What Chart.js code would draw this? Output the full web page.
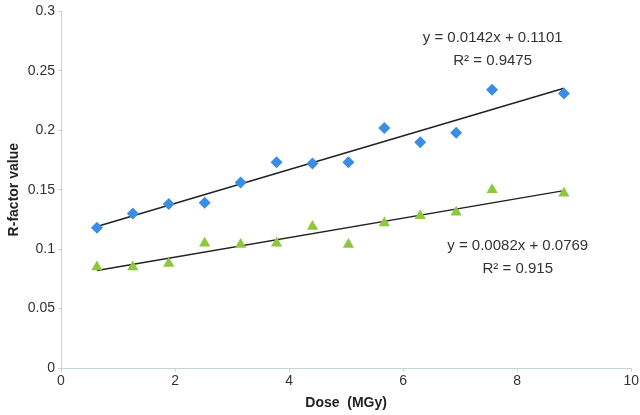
<!DOCTYPE html>
<html>
<head>
<meta charset="utf-8">
<script src="https://cdn.jsdelivr.net/npm/chart.js@4"></script>
<style>
  html, body { margin: 0; padding: 0; background: #fff; }
  #wrap { width: 640px; height: 415px; position: relative; }
</style>
</head>
<body>
<div id="wrap"><canvas id="rfactorChart"></canvas></div>
<script>
// dose values (MGy)
const doses = [0.63, 1.26, 1.89, 2.52, 3.15, 3.78, 4.41, 5.04, 5.67, 6.3, 6.93, 7.56, 8.82];
// R-factor values
const blueValues = [0.118, 0.130, 0.138, 0.139, 0.156, 0.173, 0.172, 0.173, 0.202, 0.190, 0.198, 0.234, 0.231];
const greenValues = [0.085, 0.085, 0.088, 0.105, 0.104, 0.105, 0.119, 0.104, 0.122, 0.128, 0.131, 0.150, 0.147];
// linear trend lines (slope, intercept) as printed on the chart
const blueFit = [0.0142, 0.1101];
const greenFit = [0.0082, 0.0769];
const blueLabel = ["y = 0.0142x + 0.1101", "R\u00b2 = 0.9475"];
const greenLabel = ["y = 0.0082x + 0.0769", "R\u00b2 = 0.915"];

const toPoints = (xs, ys) => xs.map((x, i) => ({ x: x, y: ys[i] }));
const fitLine = (fit) => {
  const x0 = doses[0], x1 = doses[doses.length - 1];
  return [{ x: x0, y: fit[0] * x0 + fit[1] }, { x: x1, y: fit[0] * x1 + fit[1] }];
};

// draws the trend line equations in data coordinates
const equationLabels = {
  id: "equationLabels",
  afterDatasetsDraw(chart) {
    const { ctx, scales } = chart;
    const draw = (lines, x, y) => {
      const px = scales.x.getPixelForValue(x);
      const py = scales.y.getPixelForValue(y);
      ctx.save();
      ctx.font = "15px 'Liberation Sans', Arial, sans-serif";
      ctx.fillStyle = "#333";
      ctx.textAlign = "center";
      ctx.textBaseline = "middle";
      ctx.fillText(lines[0], px, py);
      ctx.fillText(lines[1], px, py + 23);
      ctx.restore();
    };
    draw(blueLabel, 7.57, 0.278);
    draw(greenLabel, 8.01, 0.1025);
  }
};

const fontFamily = "'Liberation Sans', Arial, sans-serif";

const ctx = document.getElementById("rfactorChart");
new Chart(ctx, {
  type: "scatter",
  data: {
    datasets: [
      {
        label: "blue",
        data: toPoints(doses, blueValues),
        pointStyle: "rectRot",
        pointRadius: 6,
        backgroundColor: "#3b8de3",
        borderColor: "#3b8de3",
        borderWidth: 0
      },
      {
        label: "green",
        data: toPoints(doses, greenValues),
        pointStyle: "triangle",
        pointRadius: 6.5,
        backgroundColor: "#8dc63f",
        borderColor: "#8dc63f",
        borderWidth: 0
      },
      {
        label: "blue fit",
        type: "line",
        data: fitLine(blueFit),
        borderColor: "#222",
        borderWidth: 1.5,
        pointRadius: 0,
        fill: false
      },
      {
        label: "green fit",
        type: "line",
        data: fitLine(greenFit),
        borderColor: "#222",
        borderWidth: 1.5,
        pointRadius: 0,
        fill: false
      }
    ]
  },
  options: {
    responsive: true,
    maintainAspectRatio: false,
    animation: false,
    layout: { padding: { top: 8, right: 6, left: 0, bottom: 0 } },
    plugins: {
      legend: { display: false },
      tooltip: { enabled: false }
    },
    scales: {
      x: {
        type: "linear",
        min: 0,
        max: 10,
        ticks: {
          stepSize: 2,
          color: "#333",
          font: { family: fontFamily, size: 14 },
          padding: 1
        },
        grid: { drawOnChartArea: false, drawTicks: true, tickLength: 4, color: "#c5d3dc" },
        border: { color: "#c5d3dc", width: 1 },
        title: {
          display: true,
          text: "Dose  (MGy)",
          color: "#222",
          font: { family: fontFamily, size: 14, weight: "bold" },
          padding: { top: 3, bottom: 3 }
        },
        afterFit(scale) { scale.height = 47; }
      },
      y: {
        min: 0,
        max: 0.3,
        ticks: {
          stepSize: 0.05,
          color: "#333",
          font: { family: fontFamily, size: 14 },
          padding: 3,
          callback: (v) => String(Math.round(v * 100) / 100)
        },
        grid: { drawOnChartArea: false, drawTicks: true, tickLength: 3, color: "#c5d3dc" },
        border: { color: "#c5d3dc", width: 1 },
        title: {
          display: true,
          text: "R-factor value",
          color: "#222",
          font: { family: fontFamily, size: 14, weight: "bold" },
          padding: { top: 6, bottom: 0 }
        },
        afterFit(scale) { scale.width = 61; }
      }
    }
  },
  plugins: [equationLabels]
});
</script>
</body>
</html>
